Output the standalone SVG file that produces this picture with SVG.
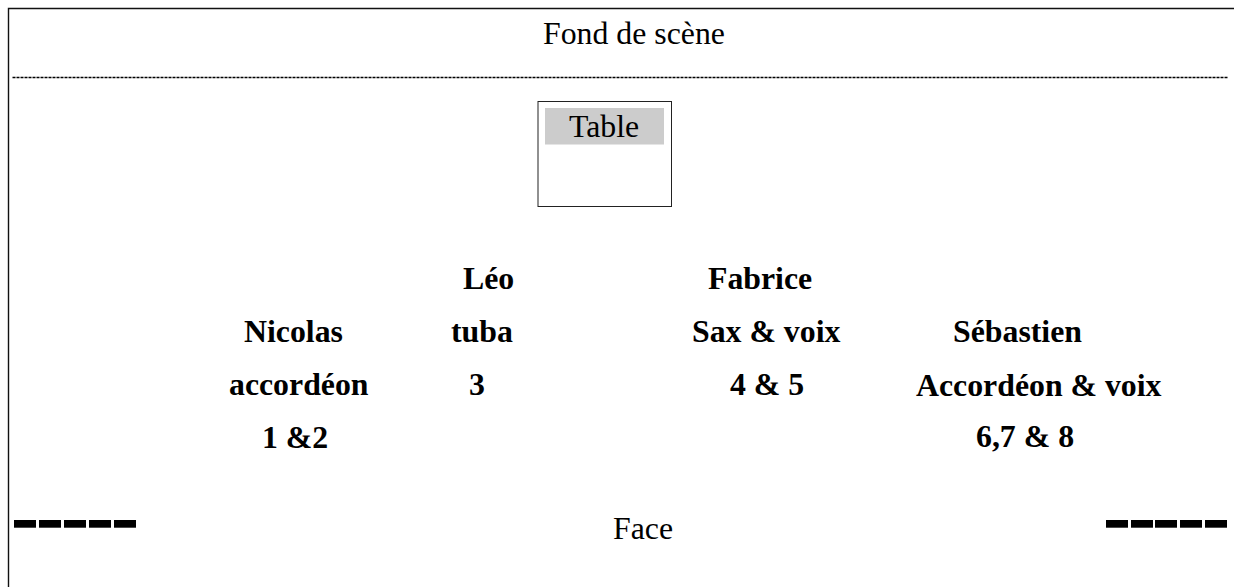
<svg xmlns="http://www.w3.org/2000/svg" width="1234" height="587" viewBox="0 0 1234 587">
<style>
.t{font-family:"Liberation Serif","Times New Roman",serif;font-size:31.8px;fill:#000}
.b{font-weight:bold}
.d{fill:#000}
</style>
<rect width="1234" height="587" fill="#fff"/>
<g id="frame">
<path d="M8.5,587 V8.5 H1234" fill="none" stroke="#111" stroke-width="1.4"/>
<line x1="12.5" y1="77.5" x2="1228" y2="77.5" stroke="#000" stroke-width="1.6" stroke-dasharray="3,1"/>
</g>
<g id="fond"><text class="t" x="543" y="44">Fond de scène</text></g>
<g id="table">
<rect x="538" y="101.5" width="133.5" height="105" fill="#fff" stroke="#222" stroke-width="1"/>
<rect x="545" y="108" width="119" height="36.5" fill="#ccc"/>
<text class="t" x="569" y="137">Table</text>
</g>
<g id="nicolas">
<text class="t b" x="244" y="342">Nicolas</text>
<text class="t b" x="229" y="395">accordéon</text>
<text class="t b" x="262" y="448">1 &amp;2</text>
</g>
<g id="leo">
<text class="t b" x="463" y="289">Léo</text>
<text class="t b" x="451" y="342">tuba</text>
<text class="t b" x="469" y="395">3</text>
</g>
<g id="fabrice">
<text class="t b" x="708" y="289">Fabrice</text>
<text class="t b" x="692" y="342">Sax &amp; voix</text>
<text class="t b" x="730" y="395">4 &amp; 5</text>
</g>
<g id="sebastien">
<text class="t b" x="953" y="342">Sébastien</text>
<text class="t b" x="916" y="396">Accordéon &amp; voix</text>
<text class="t b" x="976" y="447">6,7 &amp; 8</text>
</g>
<g id="face"><text class="t" x="613" y="539">Face</text></g>
<g id="marks-left">
<rect class="d" x="14" y="520" width="22" height="7.7"/>
<rect class="d" x="39" y="520" width="22" height="7.7"/>
<rect class="d" x="64" y="520" width="22" height="7.7"/>
<rect class="d" x="89" y="520" width="22" height="7.7"/>
<rect class="d" x="114" y="520" width="22" height="7.7"/>
</g>
<g id="marks-right">
<rect class="d" x="1106" y="520" width="22" height="7.7"/>
<rect class="d" x="1131" y="520" width="22" height="7.7"/>
<rect class="d" x="1155" y="520" width="22" height="7.7"/>
<rect class="d" x="1180" y="520" width="22" height="7.7"/>
<rect class="d" x="1205" y="520" width="22" height="7.7"/>
</g>
</svg>
